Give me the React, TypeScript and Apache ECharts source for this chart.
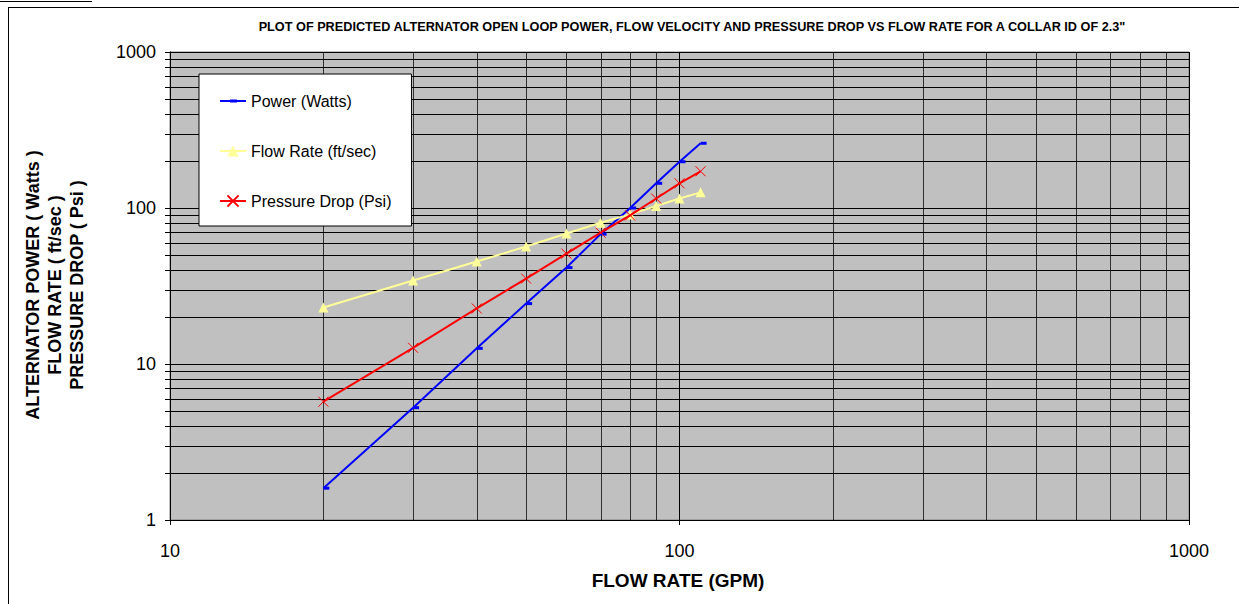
import React, { useEffect, useRef } from "react";
import * as echarts from "echarts";

const flowGpm = [20, 30, 40, 50, 60, 70, 80, 90, 100, 110];
const powerWatts = [1.6, 5.25, 12.6, 24.4, 41.5, 68, 100, 144, 198, 260];
const flowVelocity = [23.0, 34.3, 45.4, 56.6, 68.7, 80.5, 91, 103, 115, 126];
const pressureDrop = [5.73, 12.7, 22.7, 35.3, 51, 69.5, 89.6, 115, 144, 172];

const seriesNames = ["Power (Watts)", "Flow Rate (ft/sec)", "Pressure Drop (Psi)"];
const xMinor = [20, 30, 40, 50, 60, 70, 80, 90, 200, 300, 400, 500, 600, 700, 800, 900];
const yMinor = [2, 3, 4, 5, 6, 7, 8, 9, 20, 30, 40, 50, 60, 70, 80, 90, 200, 300, 400, 500, 600, 700, 800, 900];

const titleText =
  'PLOT OF PREDICTED ALTERNATOR OPEN LOOP POWER, FLOW VELOCITY AND PRESSURE DROP VS FLOW RATE FOR A COLLAR ID OF 2.3"';
const xTitle = "FLOW RATE (GPM)";
const yTitles = ["ALTERNATOR POWER ( Watts )", "FLOW RATE ( ft/sec )", "PRESSURE DROP ( Psi )"];

const FONT = "'Liberation Sans', Arial, sans-serif";
const DASH_ICON =
  "path://M0,0h0.01v0.01H0z M25.99,13.99h0.01v0.01h-0.01z M0,6h26v2H0z M10,5.5h7v3h-7z";

export default function App() {
  const ref = useRef<HTMLDivElement>(null);
  useEffect(() => {
    if (!ref.current) return;
    const chart = echarts.init(ref.current, null, { renderer: "svg" });
    const pair = (ys: number[]) => flowGpm.map((x, i) => [x, ys[i]]);
    const option: any = {
      animation: false,
      backgroundColor: "#fff",
      grid: {
        left: 170,
        right: 50,
        top: 52,
        bottom: 84,
        show: true,
        backgroundColor: "#C0C0C0",
        borderColor: "#808080",
        borderWidth: 1,
      },
      legend: {
        orient: "vertical",
        left: 199,
        top: 74,
        backgroundColor: "#fff",
        borderColor: "#000",
        borderWidth: 1,
        padding: [19, 20, 17, 20],
        itemWidth: 26,
        itemHeight: 14,
        itemGap: 34,
        textStyle: { fontSize: 16, fontFamily: FONT, color: "#000" },
        data: [{ name: seriesNames[0], icon: DASH_ICON }, seriesNames[1], seriesNames[2]],
      },
      xAxis: {
        type: "log",
        logBase: 10,
        min: 10,
        max: 1000,
        axisLine: { show: true, lineStyle: { color: "#000", width: 1 } },
        axisTick: { show: true, length: 5, lineStyle: { color: "#000" } },
        axisLabel: {
          fontSize: 18,
          fontFamily: FONT,
          color: "#000",
          margin: 22,
          formatter: (v: number) => String(Math.round(v)),
        },
        splitLine: { show: true, lineStyle: { color: "#000", width: 1 } },
      },
      yAxis: {
        type: "log",
        logBase: 10,
        min: 1,
        max: 1000,
        axisLine: { show: true, lineStyle: { color: "#000", width: 1 } },
        axisTick: { show: true, length: 5, lineStyle: { color: "#000" } },
        axisLabel: {
          fontSize: 18,
          fontFamily: FONT,
          color: "#000",
          margin: 14,
          formatter: (v: number) => String(Math.round(v)),
        },
        splitLine: { show: true, lineStyle: { color: "#000", width: 1 } },
      },
      series: [
        {
          type: "custom",
          name: "hgrid",
          silent: true,
          z: 1,
          data: yMinor.map((v) => [10, v]),
          encode: { x: 0, y: 1 },
          renderItem: (params: any, api: any) => {
            const cs = params.coordSys;
            const p = api.coord([api.value(0), api.value(1)]);
            const y = Math.round(p[1]) + 0.5;
            return {
              type: "line",
              shape: { x1: cs.x - 5, y1: y, x2: cs.x + cs.width, y2: y },
              style: { stroke: "#000", lineWidth: 1 },
            };
          },
        },
        {
          type: "custom",
          name: "vgrid",
          silent: true,
          z: 1,
          data: xMinor.map((v) => [v, 1]),
          encode: { x: 0, y: 1 },
          renderItem: (params: any, api: any) => {
            const cs = params.coordSys;
            const p = api.coord([api.value(0), api.value(1)]);
            const x = Math.round(p[0]) + 0.5;
            return {
              type: "line",
              shape: { x1: x, y1: cs.y, x2: x, y2: cs.y + cs.height },
              style: { stroke: "#000", lineWidth: 1, opacity: 0.75 },
            };
          },
        },
        {
          type: "line",
          name: seriesNames[0],
          z: 3,
          data: pair(powerWatts),
          symbol: "rect",
          symbolSize: [6, 3],
          symbolOffset: [3, 0],
          lineStyle: { color: "#0000FF", width: 2 },
          itemStyle: { color: "#0000FF" },
        },
        {
          type: "line",
          name: seriesNames[1],
          z: 3,
          data: pair(flowVelocity),
          symbol: "triangle",
          symbolSize: 10,
          lineStyle: { color: "#FFFF99", width: 2 },
          itemStyle: { color: "#FFFF99" },
        },
        {
          type: "line",
          name: seriesNames[2],
          z: 4,
          data: pair(pressureDrop),
          symbol: "path://M0,0L10,10M10,0L0,10",
          symbolSize: 10,
          lineStyle: { color: "#FF0000", width: 2 },
          itemStyle: { color: "#FF0000", borderColor: "#FF0000", borderWidth: 1 },
        },
      ],
      graphic: [
        { type: "line", shape: { x1: 0, y1: 1.5, x2: 92, y2: 1.5 }, style: { stroke: "#000", lineWidth: 1 } },
        { type: "line", shape: { x1: 8, y1: 7.5, x2: 1239, y2: 7.5 }, style: { stroke: "#000", lineWidth: 1 } },
        { type: "line", shape: { x1: 8.5, y1: 7, x2: 8.5, y2: 604 }, style: { stroke: "#000", lineWidth: 1 } },
        {
          type: "text",
          x: 692,
          y: 27,
          style: {
            text: titleText,
            align: "center",
            verticalAlign: "middle",
            fontSize: 12.7,
            fontWeight: "bold",
            fontFamily: FONT,
            fill: "#000",
          },
        },
        {
          type: "text",
          x: 678,
          y: 580,
          style: {
            text: xTitle,
            align: "center",
            verticalAlign: "middle",
            fontSize: 19,
            fontWeight: "bold",
            fontFamily: FONT,
            fill: "#000",
          },
        },
        ...yTitles.map((t, i) => ({
          type: "text",
          x: 33 + i * 22,
          y: 285,
          rotation: Math.PI / 2,
          style: {
            text: t,
            align: "center",
            verticalAlign: "middle",
            fontSize: 18,
            fontWeight: "bold",
            fontFamily: FONT,
            fill: "#000",
          },
        })),
      ],
    };
    chart.setOption(option);
    return () => chart.dispose();
  }, []);
  return (
    <div
      ref={ref}
      style={{ position: "fixed", left: 0, top: 0, width: 1239, height: 604 }}
    />
  );
}
